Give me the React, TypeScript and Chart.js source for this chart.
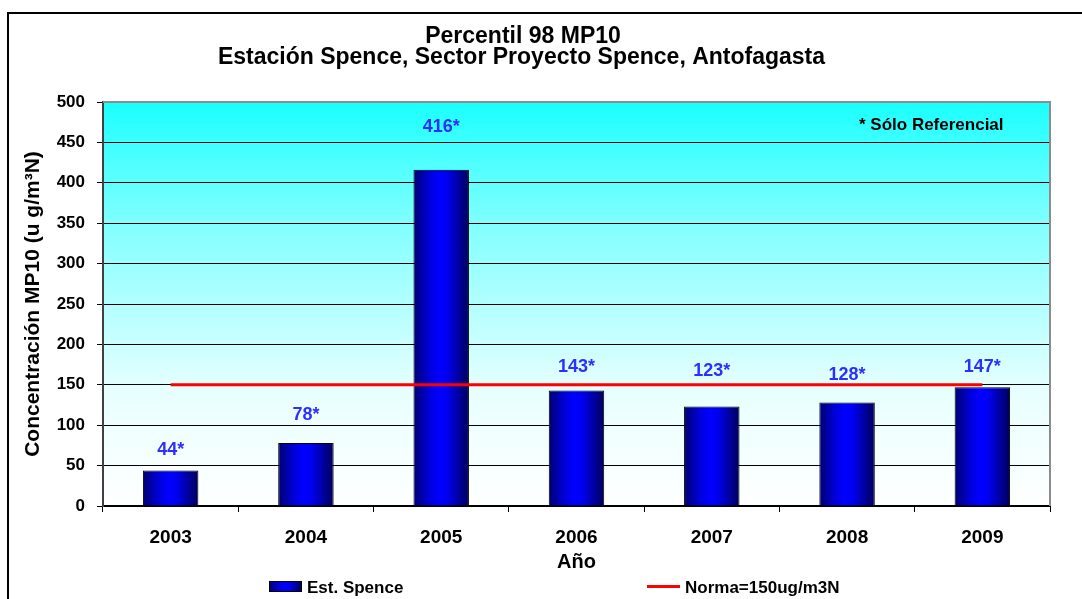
import { useEffect, useRef } from 'react';
import { Chart, registerables } from 'chart.js';

Chart.register(...registerables);

const categories = ['2003', '2004', '2005', '2006', '2007', '2008', '2009'];
const spenceValues = [44, 78, 416, 143, 123, 128, 147];
const normaValues = [150, 150, 150, 150, 150, 150, 150];
const valueLabels = ['44*', '78*', '416*', '143*', '123*', '128*', '147*'];
const yMin = 0;
const yMax = 500;
const yStep = 50;
const titleLines = ['Percentil 98 MP10', 'Estación Spence, Sector Proyecto Spence, Antofagasta'];
const seriesNames = ['Est. Spence', 'Norma=150ug/m3N'];
const noteText = '* Sólo Referencial';
const xTitle = 'Año';
const yTitle = 'Concentración MP10 (u g/m³N)';

const FONT = '"Liberation Sans", Arial, Helvetica, sans-serif';
const BAR_FRACTION = 0.41;
const LABEL_OFFSETS = [20, 28, 43, 23, 36, 28, 20];

function barGradient(ctx: CanvasRenderingContext2D, x0: number, x1: number) {
  const g = ctx.createLinearGradient(x0, 0, x1, 0);
  g.addColorStop(0, '#000070');
  g.addColorStop(0.28, '#0000D8');
  g.addColorStop(0.45, '#0000FF');
  g.addColorStop(0.6, '#0000F2');
  g.addColorStop(1, '#00005A');
  return g;
}

const decorPlugin = {
  id: 'decor',
  beforeDraw(chart: any) {
    const { ctx, chartArea: a, width, height } = chart;
    ctx.save();
    ctx.fillStyle = '#ffffff';
    ctx.fillRect(0, 0, width, height);
    const g = ctx.createLinearGradient(0, a.top, 0, a.bottom);
    g.addColorStop(0, '#19FFFF');
    g.addColorStop(0.12, '#45FFFF');
    g.addColorStop(0.3, '#80FFFF');
    g.addColorStop(0.49, '#B0FFFF');
    g.addColorStop(0.72, '#E8FFFF');
    g.addColorStop(1, '#FFFFFF');
    ctx.fillStyle = g;
    ctx.fillRect(a.left, a.top, a.right - a.left, a.bottom - a.top);
    ctx.strokeStyle = '#000';
    ctx.lineWidth = 2;
    ctx.strokeRect(8, 13, width + 40, height + 40);
    ctx.restore();
  },
  afterDatasetsDraw(chart: any) {
    const { ctx } = chart;
    const meta = chart.getDatasetMeta(1);
    ctx.save();
    ctx.font = `bold 18px ${FONT}`;
    ctx.fillStyle = '#2E2EFF';
    ctx.textAlign = 'center';
    ctx.textBaseline = 'middle';
    meta.data.forEach((el: any, i: number) => {
      ctx.fillText(valueLabels[i], el.x, el.y - LABEL_OFFSETS[i]);
    });
    ctx.restore();
  },
  afterDraw(chart: any) {
    const { ctx, chartArea: a } = chart;
    ctx.save();
    ctx.strokeStyle = '#8C8C8C';
    ctx.lineWidth = 2;
    ctx.beginPath();
    ctx.moveTo(a.left, a.top);
    ctx.lineTo(a.right, a.top);
    ctx.lineTo(a.right, a.bottom);
    ctx.stroke();

    ctx.fillStyle = '#000';
    ctx.textAlign = 'center';
    ctx.textBaseline = 'alphabetic';
    ctx.font = `bold 23px ${FONT}`;
    ctx.fillText(titleLines[0], 523, 43);
    ctx.fillText(titleLines[1], 521.5, 64);

    ctx.textAlign = 'left';
    ctx.font = `bold 17px ${FONT}`;
    ctx.fillText(noteText, 859, 130);

    ctx.fillStyle = barGradient(ctx, 269, 302);
    ctx.fillRect(269, 581, 33, 11);
    ctx.strokeStyle = '#000';
    ctx.lineWidth = 1;
    ctx.strokeRect(269.5, 581.5, 32, 10);
    ctx.fillStyle = '#000';
    ctx.fillText(seriesNames[0], 307, 592.5);
    ctx.strokeStyle = '#FF0000';
    ctx.lineWidth = 3;
    ctx.beginPath();
    ctx.moveTo(647, 586.5);
    ctx.lineTo(680, 586.5);
    ctx.stroke();
    ctx.fillText(seriesNames[1], 685, 592.5);
    ctx.restore();
  },
};

export default function App() {
  const ref = useRef<HTMLCanvasElement | null>(null);

  useEffect(() => {
    if (!ref.current) return;
    const chart = new Chart(ref.current, {
      type: 'bar',
      data: {
        labels: categories,
        datasets: [
          {
            type: 'line',
            label: seriesNames[1],
            data: normaValues,
            borderColor: '#FF0000',
            backgroundColor: '#FF0000',
            borderWidth: 3,
            pointRadius: 0,
            fill: false,
            order: 0,
          } as any,
          {
            type: 'bar',
            label: seriesNames[0],
            data: spenceValues,
            borderColor: '#000000',
            borderWidth: 1,
            categoryPercentage: BAR_FRACTION,
            barPercentage: 1,
            order: 1,
            backgroundColor: (c: any) => {
              const ch = c.chart;
              const a = ch.chartArea;
              if (!a || c.type !== 'data') return '#0000FF';
              const xs = ch.scales.x;
              const cx = xs.getPixelForValue(c.dataIndex);
              const w = ((a.right - a.left) / categories.length) * BAR_FRACTION;
              return barGradient(ch.ctx, cx - w / 2, cx + w / 2);
            },
          } as any,
        ],
      },
      options: {
        responsive: false,
        animation: false,
        layout: { padding: { top: 102, right: 32, bottom: 0, left: 0 } },
        plugins: {
          legend: { display: false },
          tooltip: { enabled: false },
          title: { display: false },
        },
        scales: {
          x: {
            offset: true,
            grid: {
              offset: true,
              drawOnChartArea: false,
              drawTicks: true,
              tickLength: 6,
              color: '#000',
              lineWidth: 1,
            },
            border: { display: true, color: '#000', width: 2 },
            ticks: {
              color: '#000',
              padding: 14,
              font: { family: FONT, size: 19, weight: 'bold' },
            },
            title: {
              display: true,
              text: xTitle,
              color: '#000',
              font: { family: FONT, size: 20, weight: 'bold' },
              padding: { top: 0, bottom: 25 },
            },
            afterFit: (s: any) => {
              s.height = 93;
            },
          },
          y: {
            min: yMin,
            max: yMax,
            ticks: {
              stepSize: yStep,
              color: '#000',
              padding: 12,
              font: { family: FONT, size: 17, weight: 'bold' },
            },
            grid: {
              color: '#000',
              lineWidth: 1,
              tickLength: 6,
              drawTicks: true,
            },
            border: { display: true, color: '#404040', width: 2 },
            title: {
              display: true,
              text: yTitle,
              color: '#000',
              font: { family: FONT, size: 21, weight: 'bold' },
              padding: { top: 21, bottom: 0 },
            },
            afterFit: (s: any) => {
              s.width = 103;
            },
          },
        },
      } as any,
      plugins: [decorPlugin],
    });
    return () => chart.destroy();
  }, []);

  return (
    <div style={{ position: 'absolute', left: 0, top: 0, width: 1082, height: 599, overflow: 'hidden' }}>
      <canvas ref={ref} width={1082} height={599} style={{ display: 'block', width: 1082, height: 599 }} />
    </div>
  );
}
